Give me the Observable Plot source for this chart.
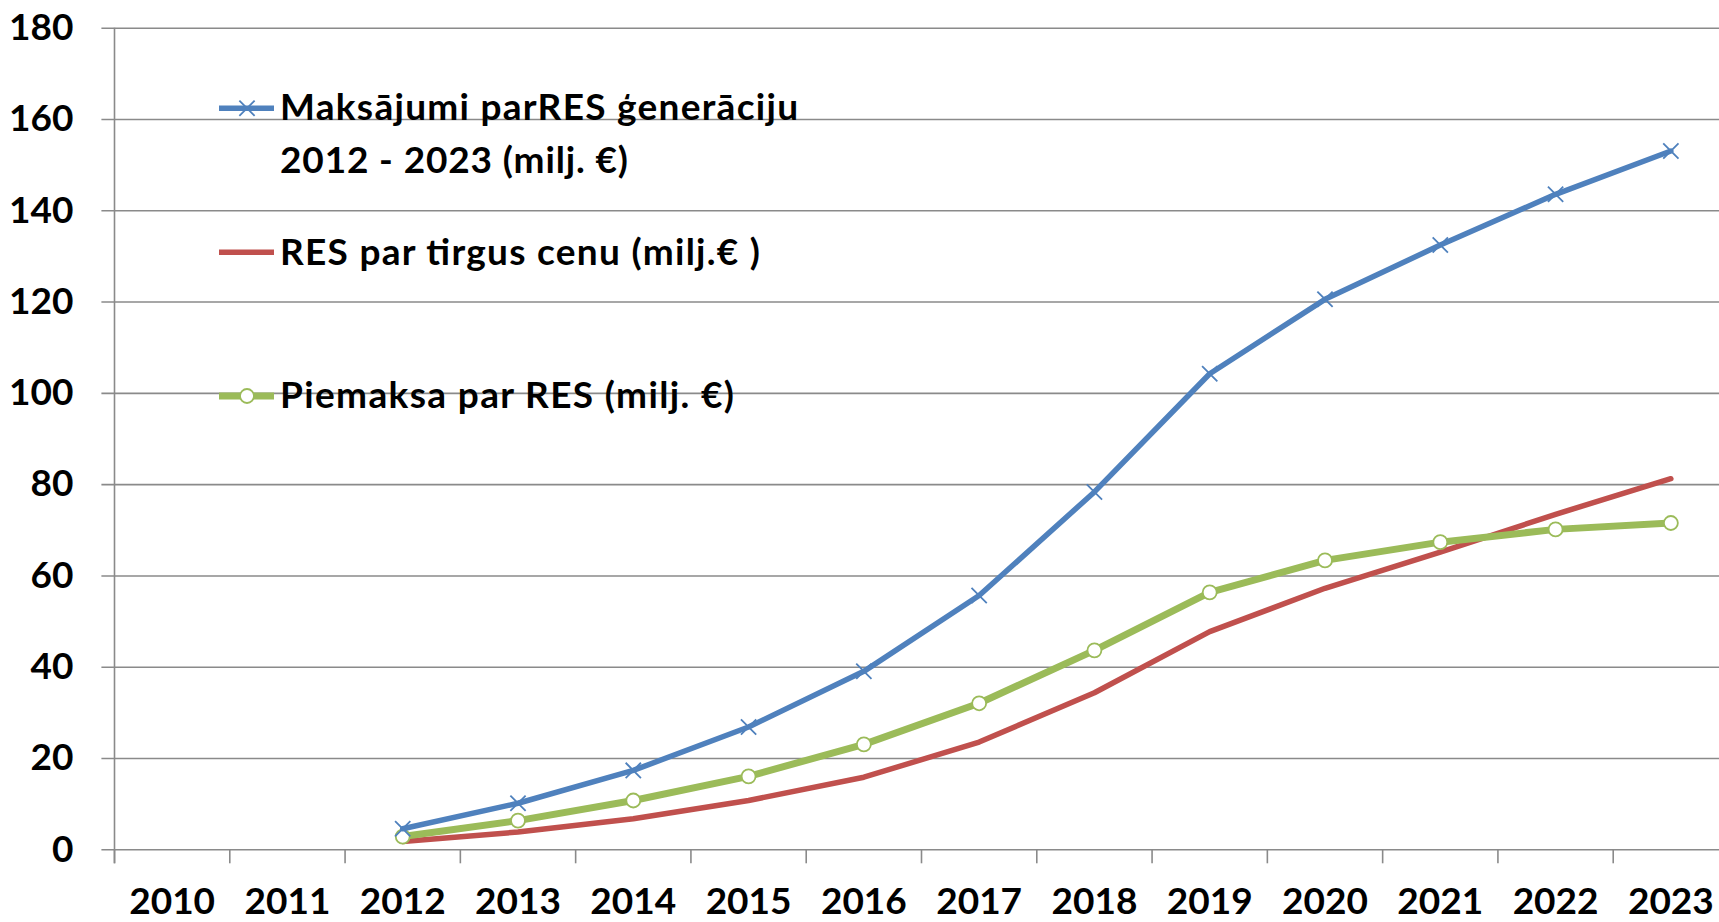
<!DOCTYPE html>
<html>
<head>
<meta charset="utf-8">
<script src="https://cdn.jsdelivr.net/npm/d3@7"></script>
<script src="https://cdn.jsdelivr.net/npm/@observablehq/plot@0.6"></script>
<style>
  html, body { margin: 0; padding: 0; background: #fff; overflow: hidden; }
  #chart { position: relative; width: 1719px; height: 922px; overflow: hidden; }
</style>
</head>
<body>
<div id="chart"></div>
<script>
// ---- data ----
const years = [2010, 2011, 2012, 2013, 2014, 2015, 2016, 2017, 2018, 2019, 2020, 2021, 2022, 2023];
const dataYears = [2012, 2013, 2014, 2015, 2016, 2017, 2018, 2019, 2020, 2021, 2022, 2023];
const maksajumi = [4.6, 10.2, 17.4, 26.9, 39.1, 55.7, 78.4, 104.3, 120.6, 132.5, 143.6, 153.1];
const tirgusCena = [1.8, 3.9, 6.8, 10.8, 15.9, 23.6, 34.4, 47.8, 57.3, 65.2, 73.5, 81.3];
const piemaksa = [2.9, 6.4, 10.8, 16.1, 23.1, 32.1, 43.7, 56.4, 63.4, 67.4, 70.2, 71.6];
const yTicks = [0, 20, 40, 60, 80, 100, 120, 140, 160, 180];
const seriesNames = ["Maksājumi parRES ģenerāciju\n2012 - 2023 (milj. €)", "RES par tirgus cenu (milj.€ )", "Piemaksa par RES (milj. €)"];
const seriesColors = ["#4F81BD", "#C0504D", "#9BBB59"];

// ---- tables ----
const toRows = (arr) => dataYears.map((yr, i) => ({year: yr, value: arr[i]}));
const rowsM = toRows(maksajumi);
const rowsT = toRows(tirgusCena);
const rowsP = toRows(piemaksa);
const bounds = years.map(y => y - 0.5).concat([years[years.length - 1] + 0.5]);

const grid = "#8a8a8a";
const W = 1719, H = 922;
const FONT = "Lato, 'Open Sans', sans-serif";

const svg = Plot.plot({
  width: W,
  height: H,
  marginLeft: 114,
  marginRight: 0,
  marginTop: 27.7,
  marginBottom: 72.7,
  x: {type: "linear", domain: [bounds[0], bounds[bounds.length - 1]], range: [114, 1728], label: null},
  y: {domain: [0, 180], label: null},
  style: {fontFamily: FONT, fontWeight: "bold", fontSize: "37px", color: "#000", background: "#fff", overflow: "hidden"},
  marks: [
    Plot.ruleY(yTicks, {stroke: grid, strokeWidth: 1.6, insetLeft: -12.6}),
    Plot.ruleX([bounds[0]], {stroke: grid, strokeWidth: 1.6, insetBottom: -14}),
    Plot.axisX(bounds, {tickSize: 14, tickFormat: () => "", stroke: grid, strokeWidth: 1.6, strokeOpacity: 1}),
    Plot.axisX(years, {tickSize: 0, tickPadding: 38, tickFormat: d3.format("d"), fontSize: 37, fontWeight: "bold"}),
    Plot.axisY(yTicks, {tickSize: 0, tickPadding: 41, tickFormat: d3.format("d"), fontSize: 37, fontWeight: "bold"}),
    Plot.line(rowsT, {x: "year", y: "value", stroke: seriesColors[1], strokeWidth: 5.5}),
    Plot.line(rowsP, {x: "year", y: "value", stroke: seriesColors[2], strokeWidth: 7}),
    Plot.dot(rowsP, {x: "year", y: "value", r: 7, fill: "#fff", stroke: seriesColors[2], strokeWidth: 1.8}),
    Plot.line(rowsM, {x: "year", y: "value", stroke: seriesColors[0], strokeWidth: 5.5}),
    Plot.dot(rowsM, {x: "year", y: "value", symbol: "times", r: 7, stroke: seriesColors[0], strokeWidth: 1.8})
  ]
});

// ---- legend (inside plot area) ----
const legendItems = [
  {lines: seriesNames[0].split("\n"), widths: [518, 348], color: seriesColors[0], marker: "times", lineY: 108.3, baseline: 120, width: 5.5},
  {lines: [seriesNames[1]], widths: [480], color: seriesColors[1], marker: null, lineY: 252.3, baseline: 265, width: 5.5},
  {lines: [seriesNames[2]], widths: [454], color: seriesColors[2], marker: "circle", lineY: 396, baseline: 408, width: 7}
];
const lg = d3.select(svg).append("g")
  .attr("font-family", FONT).attr("font-weight", "bold").attr("font-size", 37)
  .attr("text-anchor", "start");
for (const it of legendItems) {
  lg.append("line").attr("x1", 219).attr("x2", 274).attr("y1", it.lineY).attr("y2", it.lineY)
    .attr("stroke", it.color).attr("stroke-width", it.width);
  if (it.marker === "times") {
    lg.append("path").attr("transform", `translate(247,${it.lineY})`)
      .attr("d", d3.symbol(d3.symbolTimes, 7 * 7 * Math.PI)())
      .attr("fill", "none").attr("stroke", it.color).attr("stroke-width", 1.8);
  } else if (it.marker === "circle") {
    lg.append("circle").attr("cx", 247).attr("cy", it.lineY).attr("r", 7)
      .attr("fill", "#fff").attr("stroke", it.color).attr("stroke-width", 1.8);
  }
  it.lines.forEach((ln, i) => {
    lg.append("text").attr("x", 280).attr("y", it.baseline + i * 53)
      .attr("fill", "#000").attr("text-anchor", "start")
      .attr("textLength", it.widths[i]).attr("lengthAdjust", "spacing")
      .text(ln);
  });
}

document.getElementById("chart").appendChild(svg);
</script>
</body>
</html>
